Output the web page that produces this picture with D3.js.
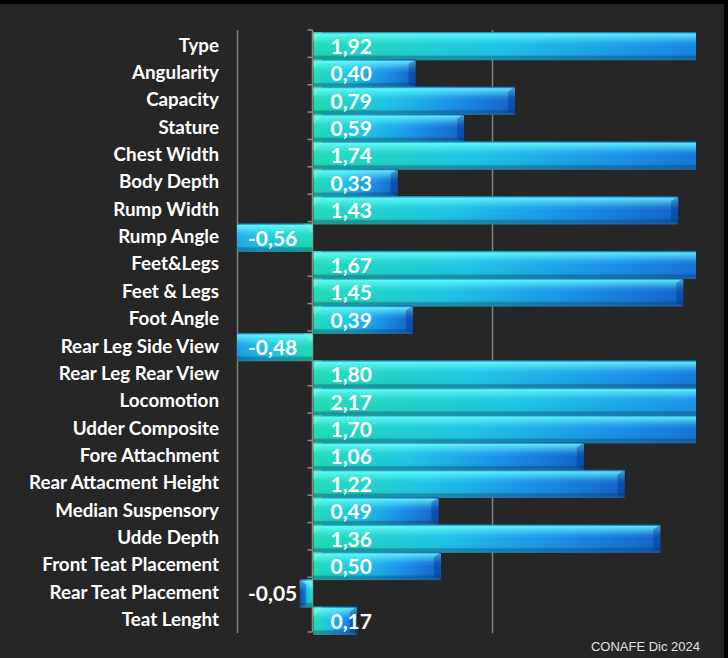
<!DOCTYPE html>
<html><head><meta charset="utf-8">
<script src="https://cdn.jsdelivr.net/npm/d3@7"></script>
<style>html,body{margin:0;padding:0;background:#000;}svg{display:block;}</style>
</head><body>
<svg id="chart" width="728" height="658"></svg>
<script>
const categories = ["Type","Angularity","Capacity","Stature","Chest Width","Body Depth","Rump Width","Rump Angle","Feet&Legs","Feet & Legs","Foot Angle","Rear Leg Side View","Rear Leg Rear View","Locomotion","Udder Composite","Fore Attachment","Rear Attacment Height","Median Suspensory","Udde Depth","Front Teat Placement","Rear Teat Placement","Teat Lenght"];
const values = [1.92,0.40,0.79,0.59,1.74,0.33,1.43,-0.56,1.67,1.45,0.39,-0.48,1.80,2.17,1.70,1.06,1.22,0.49,1.36,0.50,-0.05,0.17];
const gridTicks = [-0.3, 0.7];
const xDomain = [-0.3, 1.5];
const footnote = "CONAFE Dic 2024";

const svg = d3.select("#chart");
const W = 728, H = 658;
svg.append("rect").attr("width", W).attr("height", H).attr("fill", "#000");
svg.append("rect").attr("x", 0).attr("y", 4).attr("width", 724).attr("height", H - 4).attr("fill", "#262626");

const x = d3.scaleLinear().domain(xDomain).range([237, 696]);
const y = d3.scaleBand().domain(categories).range([30, 632]).padding(0);
const bw = y.bandwidth();
const data = categories.map((c, i) => ({c, v: values[i]}));

const defs = svg.append("defs");
function lin(id, x1, x2, y1, y2, stops) {
  const g = defs.append("linearGradient").attr("id", id)
    .attr("x1", x1).attr("x2", x2).attr("y1", y1).attr("y2", y2);
  stops.forEach(s => g.append("stop").attr("offset", s[0]).attr("stop-color", s[1]).attr("stop-opacity", s[2] == null ? 1 : s[2]));
}
const hStops = [[0, "#22dcb4"], [0.35, "#1ec6e6"], [0.7, "#1a90e8"], [1, "#1262c8"]];
lin("gPos", 0, 1, 0, 0, hStops);
lin("gNeg", 1, 0, 0, 0, hStops);
lin("shade", 0, 0, 0, 1, [
  [0, "#00408c", 0.45], [0.07, "#70ffff", 0.8], [0.2, "#70ffff", 0.5], [0.38, "#70ffff", 0.12],
  [0.5, "#ffffff", 0], [0.82, "#000000", 0.04], [0.87, "#003050", 0.35], [1, "#30607a", 0.55]]);

defs.append("clipPath").attr("id", "plotClip").append("rect")
  .attr("x", x(xDomain[0])).attr("y", 0).attr("width", x(xDomain[1]) - x(xDomain[0])).attr("height", H);

// gridlines
const grid = svg.append("g").attr("transform", `translate(0,${y.range()[0]})`)
  .call(d3.axisBottom(x).tickValues(gridTicks).tickSize(y.range()[1] - y.range()[0] + 1).tickFormat(""));
grid.select(".domain").remove();
grid.selectAll("line").attr("stroke", "#808080").attr("stroke-width", 1.5);

// category axis at zero
const ax = svg.append("g");
ax.append("line").attr("x1", x(0) - 1).attr("x2", x(0) - 1)
  .attr("y1", y.range()[0]).attr("y2", y.range()[1]).attr("stroke", "#8a8a8a").attr("stroke-width", 1.5);
const bounds = categories.map(c => y(c)).concat([y.range()[1]]);
ax.selectAll("line.tk").data(bounds).join("line").attr("class", "tk")
  .attr("x1", x(0) - 6).attr("x2", x(0) - 1).attr("y1", d => d).attr("y2", d => d)
  .attr("stroke", "#8a8a8a").attr("stroke-width", 1.5);

// bars
const plot = svg.append("g").attr("clip-path", "url(#plotClip)");
const bars = plot.selectAll("g.bar").data(data).join("g").attr("class", "bar");
const bx = d => d.v >= 0 ? x(0) : x(d.v) - 1;
const bwid = d => Math.abs(x(d.v) - x(0));
const by = d => y(d.c) + 2;
const bh = bw + 0.8;
bars.append("rect").attr("x", bx).attr("y", by).attr("width", bwid).attr("height", bh)
  .attr("fill", d => d.v >= 0 ? "url(#gPos)" : "url(#gNeg)");
bars.append("rect").attr("x", bx).attr("y", by).attr("width", bwid).attr("height", bh)
  .attr("fill", "url(#shade)");
// end bevel (value end)
bars.append("path").attr("d", d => {
  const t = by(d), b = t + bh, dir = d.v >= 0 ? 1 : -1;
  const e = d.v >= 0 ? x(d.v) : x(d.v) - 1;
  const k = Math.min(7, bwid(d) / 2);
  return `M${e},${t} L${e - dir * k},${t + 5} L${e - dir * k},${b - 4} L${e},${b} Z`;
}).attr("fill", "#002a80").attr("opacity", 0.35);
// base bevel (zero end)
bars.append("path").attr("d", d => {
  const t = by(d), dir = d.v >= 0 ? 1 : -1;
  const s = d.v >= 0 ? x(0) : x(0) - 1;
  const k = Math.min(9, bwid(d) / 2);
  return `M${s},${t} L${s + dir * k},${t} L${s + dir * k * 0.3},${t + 8} L${s},${t + 9} Z`;
}).attr("fill", "#7affd8").attr("opacity", 0.35);

// value labels
svg.append("g").selectAll("text").data(data).join("text")
  .attr("x", d => d.v >= 0 ? x(0) + 17 : x(xDomain[0]) + 11)
  .attr("y", d => y(d.c) + 24)
  .attr("fill", "#ffffff").attr("font-family", "Lato, 'Open Sans', sans-serif")
  .attr("font-weight", 700).attr("font-size", 21)
  .text(d => d3.format(".2f")(d.v).replace(".", ",").replace("\u2212", "-"));

// category labels
svg.append("g").selectAll("text").data(categories).join("text")
  .attr("x", 219).attr("y", d => y(d) + 21.5).attr("text-anchor", "end")
  .attr("fill", "#ffffff").attr("font-family", "Lato, 'Open Sans', sans-serif")
  .attr("font-weight", 700).attr("font-size", 18.8)
  .text(d => d);

svg.append("text").attr("x", 700).attr("y", 651).attr("text-anchor", "end")
  .attr("fill", "#e0e0e0").attr("font-family", "'Liberation Sans', Arial, sans-serif")
  .attr("font-size", 13).text(footnote);
</script>
</body></html>
